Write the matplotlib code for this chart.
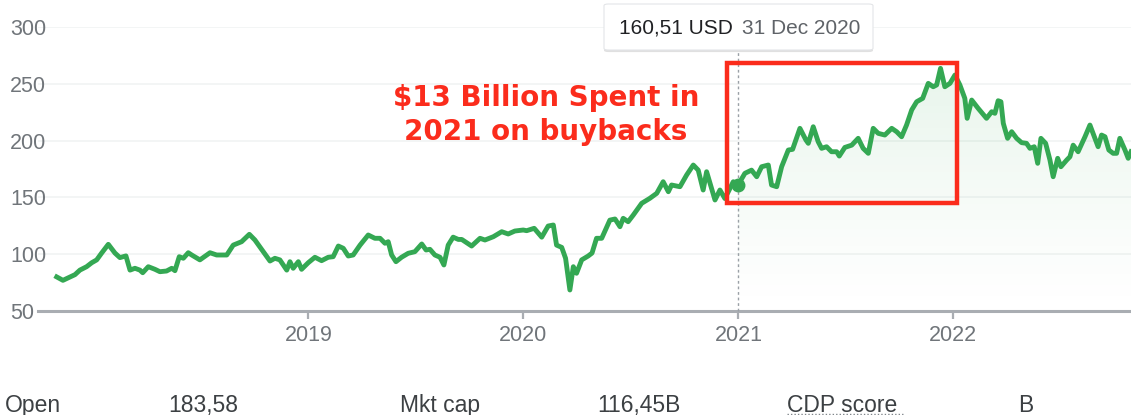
import matplotlib
matplotlib.use("Agg")
import matplotlib.pyplot as plt
import numpy as np
from matplotlib.colors import to_rgb
from matplotlib.patches import Rectangle, FancyBboxPatch
from matplotlib import patheffects as pe

# Weekly-ish closing prices, x in decimal years
years = [
    2017.829, 2017.858, 2017.891, 2017.914, 2017.937, 2017.968, 2017.992, 2018.015, 2018.038, 2018.069,
    2018.100, 2018.123, 2018.151, 2018.170, 2018.193, 2018.216, 2018.229, 2018.255, 2018.286, 2018.309,
    2018.340, 2018.364, 2018.379, 2018.399, 2018.418, 2018.441, 2018.457, 2018.495, 2018.542, 2018.573,
    2018.620, 2018.650, 2018.689, 2018.725, 2018.751, 2018.790, 2018.821, 2018.844, 2018.867, 2018.899,
    2018.914, 2018.929, 2018.953, 2018.968, 2018.999, 2019.030, 2019.061, 2019.092, 2019.115, 2019.139,
    2019.162, 2019.185, 2019.208, 2019.240, 2019.278, 2019.309, 2019.333, 2019.356, 2019.371, 2019.387,
    2019.407, 2019.433, 2019.464, 2019.495, 2019.527, 2019.547, 2019.565, 2019.588, 2019.612, 2019.630,
    2019.650, 2019.673, 2019.697, 2019.713, 2019.759, 2019.798, 2019.821, 2019.860, 2019.899, 2019.929,
    2019.960, 2019.999, 2020.015, 2020.050, 2020.085, 2020.115, 2020.139, 2020.154, 2020.178, 2020.196,
    2020.216, 2020.232, 2020.247, 2020.271, 2020.301, 2020.319, 2020.340, 2020.364, 2020.402, 2020.426,
    2020.449, 2020.464, 2020.487, 2020.511, 2020.550, 2020.588, 2020.620, 2020.650, 2020.674, 2020.689,
    2020.728, 2020.759, 2020.790, 2020.813, 2020.836, 2020.852, 2020.891, 2020.914, 2020.937, 2020.976,
    2020.997, 2021.030, 2021.061, 2021.085, 2021.108, 2021.139, 2021.154, 2021.178, 2021.201, 2021.232,
    2021.252, 2021.286, 2021.314, 2021.325, 2021.348, 2021.371, 2021.387, 2021.410, 2021.433, 2021.457,
    2021.469, 2021.495, 2021.527, 2021.557, 2021.580, 2021.604, 2021.627, 2021.650, 2021.681, 2021.713,
    2021.736, 2021.759, 2021.782, 2021.806, 2021.829, 2021.857, 2021.883, 2021.906, 2021.922, 2021.940,
    2021.960, 2021.984, 2022.007, 2022.030, 2022.053, 2022.064, 2022.085, 2022.115, 2022.154, 2022.178,
    2022.193, 2022.208, 2022.221, 2022.232, 2022.252, 2022.271, 2022.294, 2022.317, 2022.340, 2022.356,
    2022.376, 2022.392, 2022.407, 2022.429, 2022.449, 2022.464, 2022.485, 2022.500, 2022.527, 2022.542,
    2022.557, 2022.580, 2022.612, 2022.635, 2022.658, 2022.673, 2022.689, 2022.705, 2022.723, 2022.743,
    2022.759, 2022.774, 2022.798, 2022.813, 2022.826,
]
prices = [
    80.0, 77.0, 80.0, 82.0, 86.0, 89.0, 92.5, 95.0, 101.0, 108.7,
    101.0, 97.0, 98.5, 86.0, 87.6, 86.0, 83.7, 89.0, 86.7, 84.6,
    85.2, 87.6, 85.5, 97.8, 96.4, 101.3, 99.3, 95.0, 101.3, 99.3,
    99.3, 108.0, 111.0, 117.5, 112.5, 102.2, 94.0, 96.4, 95.0, 86.0,
    93.4, 87.6, 93.4, 86.7, 92.5, 97.3, 94.3, 97.3, 97.8, 107.2,
    105.2, 98.4, 99.3, 108.0, 116.9, 114.0, 114.0, 109.6, 111.0, 99.3,
    93.4, 97.3, 100.8, 102.2, 109.0, 103.7, 104.3, 99.3, 97.3, 90.5,
    108.0, 115.0, 113.0, 113.0, 107.2, 114.0, 112.5, 115.4, 119.8, 117.8,
    120.4, 121.3, 120.7, 122.8, 115.0, 124.8, 125.7, 108.0, 106.0, 96.4,
    68.5, 89.0, 83.2, 95.0, 98.4, 101.0, 114.0, 114.0, 130.0, 131.0,
    124.2, 131.6, 128.6, 134.5, 144.8, 149.2, 153.6, 163.8, 155.0, 160.9,
    159.4, 169.7, 178.5, 174.0, 156.5, 172.6, 147.7, 156.5, 149.0, 163.8,
    160.51, 171.2, 174.0, 168.2, 177.0, 178.5, 160.9, 159.4, 177.0, 191.7,
    192.3, 210.8, 200.5, 197.6, 212.2, 199.0, 193.2, 194.6, 190.2, 190.2,
    186.4, 194.0, 196.0, 202.0, 193.2, 188.8, 210.8, 206.4, 204.9, 210.8,
    207.8, 203.4, 213.7, 227.0, 234.2, 237.2, 250.4, 247.4, 249.0, 263.6,
    247.4, 250.4, 257.7, 249.0, 237.2, 219.6, 235.7, 228.4, 219.6, 225.4,
    224.0, 235.1, 234.2, 215.2, 202.0, 207.8, 202.0, 198.2, 197.6, 193.2,
    194.6, 180.0, 202.0, 197.6, 182.9, 168.2, 184.4, 177.0, 182.9, 185.8,
    196.0, 190.2, 203.4, 213.7, 202.0, 194.6, 204.9, 203.4, 191.7, 188.8,
    188.8, 202.0, 191.7, 184.4, 190.2,
]

hover_year = 2020.997
hover_price = 160.51
hover_value_text = "160,51 USD"
hover_date_text = "31 Dec 2020"

y_ticks = [50, 100, 150, 200, 250, 300]
x_ticks = [2019, 2020, 2021, 2022]
x_tick_labels = ["2019", "2020", "2021", "2022"]

stat_labels = ["Open", "Mkt cap", "CDP score"]
stat_values = ["183,58", "116,45B", "B"]

note_text = "$13 Billion Spent in\n2021 on buybacks"
buyback_years = (2020.947, 2022.016)
buyback_prices = (145.0, 268.3)

GREEN = "#34a853"
RED = "#fb2c1c"
GREY_TEXT = "#70757a"

plt.rcParams["font.family"] = ["Liberation Sans", "DejaVu Sans"]

W, H = 1131, 415
fig = plt.figure(figsize=(W / 100, H / 100), dpi=100)


def fx(px):
    return px / W


def fy(py):
    return (H - py) / H


ax = fig.add_axes([fx(38), fy(311), fx(1131 - 38), (311 - 27) / H])
ax.set_xlim(2017.742, 2022.826)
ax.set_ylim(50, 300)

# grid + axis
ax.set_yticks(y_ticks)
ax.set_xticks(x_ticks)
ax.set_xticklabels(x_tick_labels)
for v in y_ticks[1:]:
    ax.axhline(v, color="#f1f3f4", lw=1.2, zorder=0)
for s in ["top", "right", "left"]:
    ax.spines[s].set_visible(False)
ax.spines["bottom"].set_color("#a9adb2")
ax.spines["bottom"].set_linewidth(2.2)
ax.tick_params(axis="y", length=0, pad=20.2, labelsize=15.5, labelcolor=GREY_TEXT)
for lab in ax.get_yticklabels():
    lab.set_horizontalalignment("left")
ax.tick_params(axis="x", length=6, width=1.6, color="#a9adb2", pad=4,
               labelsize=15.5, labelcolor=GREY_TEXT)

# price line
xs = np.array(years)
ys = np.array(prices)
ax.plot(xs, ys, color=GREEN, lw=3.5, solid_joinstyle="round", zorder=4)

# shaded area after the hovered point
mask = xs >= hover_year
poly = ax.fill_between(xs[mask], ys[mask], 50, color="none", lw=0)
n = 256
rgba = np.zeros((n, 1, 4))
rgba[..., :3] = to_rgb(GREEN)
rgba[:, 0, 3] = np.linspace(0.0, 0.17, n) ** 1.2
im = ax.imshow(rgba, extent=[hover_year, xs[-1], 50, 270], origin="lower",
               aspect="auto", zorder=2, interpolation="bilinear")
im.set_clip_path(poly.get_paths()[0], transform=ax.transData)
ax.set_xlim(2017.742, 2022.826)
ax.set_ylim(50, 300)

# hover guide and marker
ax.vlines(hover_year, 50, 279.8, colors="#9aa0a6", lw=1.0,
          linestyles=(0, (2, 2)), clip_on=False, zorder=3)
ax.plot([hover_year], [hover_price], "o", color=GREEN, ms=9, zorder=5)

# buyback box and note
ax.add_patch(Rectangle((buyback_years[0], buyback_prices[0]),
                       buyback_years[1] - buyback_years[0],
                       buyback_prices[1] - buyback_prices[0],
                       fill=False, ec=RED, lw=3.2, zorder=6))
fig.text(fx(546), fy(115), note_text, ha="center", va="center", color=RED,
         fontsize=20, fontweight="bold", family=["DejaVu Sans"],
         linespacing=1.25, parse_math=False)

# tooltip
box = FancyBboxPatch((fx(604), fy(50)), fx(873 - 604), (50 - 4) / H,
                     boxstyle="round,pad=0,rounding_size=0.004",
                     transform=fig.transFigure, fc="white", ec="#e3e5e8", lw=0.8,
                     path_effects=[pe.SimplePatchShadow(offset=(0, -1.5), shadow_rgbFace="black", alpha=0.12),
                                   pe.Normal()])
fig.add_artist(box)
fig.text(fx(619), fy(28), hover_value_text, ha="left", va="center", color="#202124", fontsize=15)
fig.text(fx(742), fy(28), hover_date_text, ha="left", va="center", color="#5f6368", fontsize=15)

# key stats row
stat_x_labels = [5, 400, 787]
stat_x_values = [168, 597, 1018]
for lx, vx, lab, val in zip(stat_x_labels, stat_x_values, stat_labels, stat_values):
    fig.text(fx(lx), fy(412), lab, ha="left", va="baseline", color="#3c4043", fontsize=16.5)
    fig.text(fx(vx), fy(412), val, ha="left", va="baseline", color="#3c4043", fontsize=16.5)
fig.add_artist(plt.Line2D([fx(787), fx(905)], [fy(414), fy(414)], transform=fig.transFigure,
                          color="#80868b", lw=1.0, linestyle=(0, (1, 1.5))))

fig.savefig("out.png", dpi=100)
